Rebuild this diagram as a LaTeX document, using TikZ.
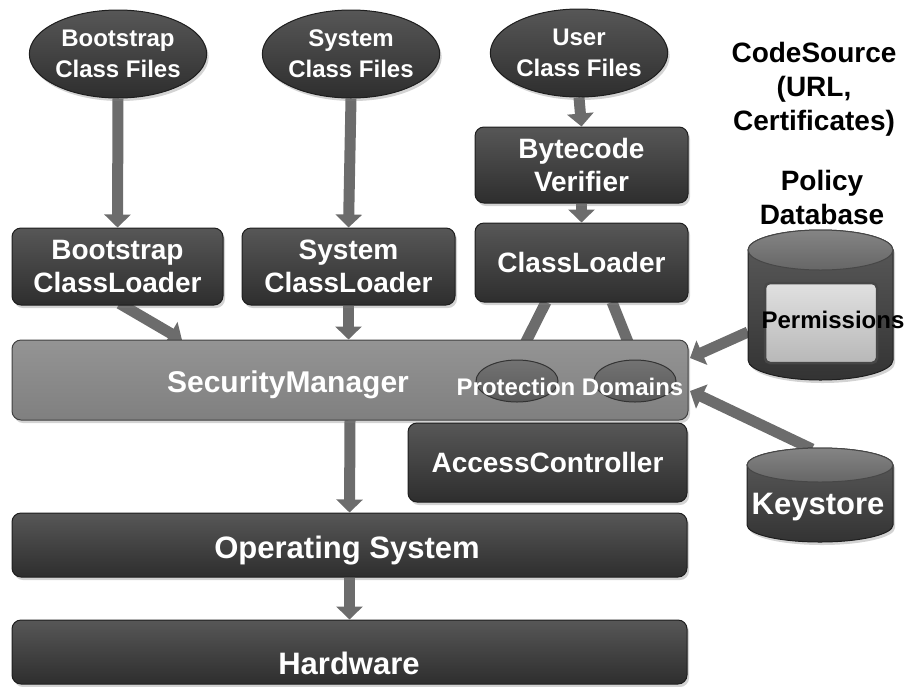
\documentclass[tikz,border=0pt]{standalone}
\usepackage{fontspec}
\setmainfont{Liberation Sans}
\usetikzlibrary{shapes.geometric,arrows.meta,shadows,calc}
\pgfdeclarelayer{bg}
\pgfsetlayers{bg,main}

\definecolor{arrowgray}{HTML}{6C6C6C}
\definecolor{edgedark}{HTML}{1E1E1E}
\definecolor{permfill}{HTML}{C4C4C4}

\newcommand\ellfont{\fontsize{24}{31}\selectfont\bfseries}
\newcommand\boxfont{\fontsize{28}{33}\selectfont\bfseries}
\newcommand\barfont{\fontsize{31}{36}\selectfont\bfseries}
\newcommand\smallfont{\fontsize{24}{28}\selectfont\bfseries}

\begin{document}
\begin{tikzpicture}[x=1pt,y=-1pt,
  shade/.style={drop shadow={shadow xshift=2pt,shadow yshift=-3pt,opacity=0.35}},
  darkfill/.style={top color=black!66,bottom color=black!82,draw=edgedark,line width=1pt},
  ell/.style={ellipse,darkfill,shade,text=white,font=\ellfont,align=center,inner sep=0pt,
    minimum width=164pt,minimum height=88pt},
  box/.style={rectangle,rounded corners=9pt,darkfill,shade,text=white,font=\boxfont,
    align=center,inner sep=0pt},
  bar/.style={rectangle,rounded corners=9pt,darkfill,shade,inner sep=0pt},
  pdom/.style={ellipse,top color=black!55,bottom color=black!65,draw=black!80,line width=1pt,
    minimum width=82pt,minimum height=42pt,inner sep=0pt},
  cyl/.style={top color=black!64,bottom color=black!80,draw=edgedark,line width=1pt,shade},
  cyltop/.style={top color=black!48,bottom color=black!60,draw=black!72,line width=1pt},
  flow/.style={draw=arrowgray,line width=11pt,-{Triangle[width=26pt,length=13pt]}},
  blacktext/.style={text=black,font=\fontsize{28}{34}\selectfont\bfseries,align=center}]

\useasboundingbox (0,0) rectangle (909,686);

% class file sources
\node[ell] (bcf) at (118,54) {Bootstrap\\Class Files};
\node[ell] (scf) at (351,54) {System\\Class Files};
\node[ell,minimum width=162pt] (ucf) at (579,53) {User\\Class Files};

% loaders and verifier
\node[box,minimum width=211pt,minimum height=77pt] (bcl) at (117.5,266.5) {Bootstrap\\ClassLoader};
\node[box,minimum width=213pt,minimum height=77pt] (scl) at (348.5,266.5) {System\\ClassLoader};
\node[box,minimum width=213pt,minimum height=76pt] (bv) at (581.5,165) {Bytecode\\Verifier};
\node[box,minimum width=213pt,minimum height=79pt] (cl) at (581.5,262.5) {ClassLoader};

% security manager with protection domains
\node[bar,top color=black!42,bottom color=black!50,draw=black!75,
  minimum width=676pt,minimum height=80pt] (sm) at (350,380) {};
\node[text=white,font=\fontsize{30}{34}\selectfont\bfseries] (smt) at (288,385) {SecurityManager};
\node[pdom] (pd1) at (517,381) {};
\node[pdom] (pd2) at (635,381) {};
\node[text=white,font=\smallfont] (pdt) at (570,387) {Protection Domains};

\node[box,minimum width=279pt,minimum height=79pt] (ac) at (547.5,462.5) {AccessController};

% lower layers
\node[bar,minimum width=675pt,minimum height=64pt] (os) at (349.5,545) {};
\node[text=white,font=\barfont] (ost) at (347,551) {Operating System};
\node[bar,minimum width=675pt,minimum height=64pt] (hw) at (349.5,652) {};
\node[text=white,font=\barfont] (hwt) at (349,663) {Hardware};

% right column captions
\node[blacktext] (cs) at (814,89) {CodeSource\\(URL,\\Certificates)};
\node[blacktext] (pdb) at (822,197) {Policy\\Database};

% policy database cylinder
\path[cyl] (748,250) -- (748,360) arc[start angle=180,end angle=360,x radius=72.5pt,y radius=20pt]
  -- (893,250) arc[start angle=0,end angle=180,x radius=72.5pt,y radius=20pt] -- cycle;
\path[cyltop] (820.5,250) ellipse[x radius=72.5pt,y radius=20pt];
\node[rectangle,rounded corners=5pt,top color=black!12,bottom color=black!28,draw=black!72,line width=2.5pt,
  minimum width=112pt,minimum height=80pt] (perm) at (821,323) {};
\node[text=black,font=\smallfont] (permt) at (833,320) {Permissions};
\coordinate (polout) at (748,332);

% keystore cylinder
\path[cyl] (747,465) -- (747,525) arc[start angle=180,end angle=360,x radius=73pt,y radius=17pt]
  -- (893,465) arc[start angle=0,end angle=180,x radius=73pt,y radius=17pt] -- cycle;
\path[cyltop] (820,465) ellipse[x radius=73pt,y radius=17pt];
\node[text=white,font=\fontsize{31}{36}\selectfont\bfseries] (ks) at (818,507) {Keystore};
\coordinate (ksout) at (812,449);

% arrow end points on the security manager
\coordinate (smin1) at (182,340);
\coordinate (smin2) at (690,358);
\coordinate (smin3) at (690,391);
\coordinate (clout1) at (546,302);
\coordinate (clout2) at (612,302);

\begin{pgfonlayer}{bg}
\draw[flow] (bcf.south) -- (bcl.north);
\draw[flow] (scf.south) -- (scl.north);
\draw[flow] (ucf.south) -- (bv.north);
\draw[flow] (bv.south) -- (cl.north);
\draw[flow] ($(bcl.south)+(2,-2)$) -- (smin1);
\draw[flow] (scl.south) -- (sm.north -| scl.south);
\draw[flow] (clout1) -- (pd1.north);
\draw[flow] (clout2) -- (pd2.north);
\draw[flow] (polout) -- (smin2);
\draw[flow] (ksout) -- (smin3);
\draw[flow] (sm.south) -- (os.north);
\draw[flow] (os.south) -- (hw.north);
\end{pgfonlayer}
\end{tikzpicture}
\end{document}
